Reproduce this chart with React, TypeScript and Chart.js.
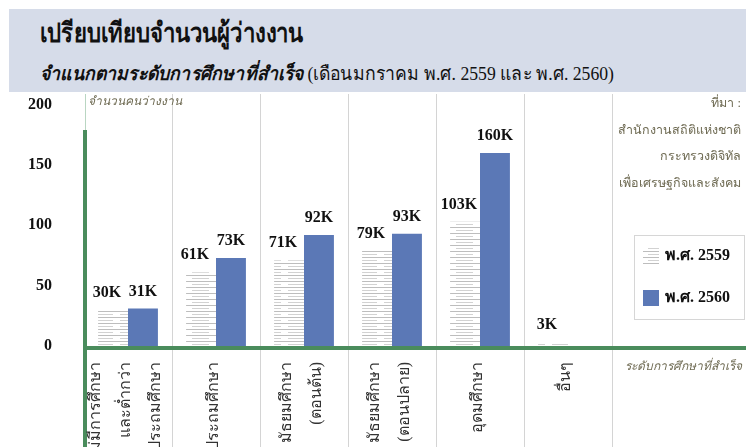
import React, { useEffect, useRef } from "react";
import { Chart, registerables } from "chart.js";
Chart.register(...registerables);

const categories: (string | string[])[] = [
  ["ไม่มีการศึกษา", "และต่ำกว่า", "ประถมศึกษา"],
  "ประถมศึกษา",
  ["มัธยมศึกษา", "(ตอนต้น)"],
  ["มัธยมศึกษา", "(ตอนปลาย)"],
  "อุดมศึกษา",
  "อื่นๆ",
];
const series2559: (number | null)[] = [30, 61, 71, 79, 103, 3];
const series2560: (number | null)[] = [31, 73, 92, 93, 160, null];
const yTicks = [0, 50, 100, 150, 200];
const seriesNames = ["พ.ศ. 2559", "พ.ศ. 2560"];
const sourceLines = ["ที่มา :", "สำนักงานสถิติแห่งชาติ", "กระทรวงดิจิทัล", "เพื่อเศรษฐกิจและสังคม"];
const yCaption = "จำนวนคนว่างงาน";
const xCaption = "ระดับการศึกษาที่สำเร็จ";
const title = "เปรียบเทียบจำนวนผู้ว่างงาน";
const subtitleBold = "จำแนกตามระดับการศึกษาที่สำเร็จ";
const subtitleRest = " (เดือนมกราคม พ.ศ. 2559 และ พ.ศ. 2560)";

const BLUE = "#5b78b6";
const GREEN = "#4a8c5c";
const NOTE = "#6e6a52";
const SERIF = '"Liberation Serif", "Times New Roman", serif';
const CANVAS_TOP = 72;
const CANVAS_H = 448 - CANVAS_TOP;
const AXIS_H = CANVAS_H - (347 - CANVAS_TOP);
const p = (pageY: number) => pageY - CANVAS_TOP;

function makeHatch(): CanvasPattern | string {
  const c = document.createElement("canvas");
  c.width = 24;
  c.height = 6;
  const g = c.getContext("2d");
  if (!g) return "#eee";
  g.fillStyle = "#ffffff";
  g.fillRect(0, 0, 24, 6);
  g.fillStyle = "#bdbdbd";
  g.fillRect(0, 0, 24, 1);
  g.fillStyle = "#d2d2d2";
  g.fillRect(0, 3, 17, 1);
  const pat = g.createPattern(c, "repeat");
  return pat || "#eee";
}

export default function App() {
  const ref = useRef<HTMLCanvasElement | null>(null);

  useEffect(() => {
    document.body.style.margin = "0";
    const canvas = ref.current;
    if (!canvas) return;
    const hatch = makeHatch();

    const overlay = {
      id: "overlay",
      beforeDatasetsDraw(chart: any) {
        const { ctx, chartArea, scales } = chart;
        const x = scales.x;
        ctx.save();
        ctx.strokeStyle = "#d4d4d4";
        ctx.lineWidth = 1;
        for (let i = 0; i < categories.length; i++) {
          const px = Math.round(x.getPixelForValue(i + 0.5)) + 0.5;
          ctx.beginPath();
          ctx.moveTo(px, p(95));
          ctx.lineTo(px, chart.height);
          ctx.stroke();
        }
        ctx.strokeStyle = "#b9d6c2";
        ctx.beginPath();
        ctx.moveTo(chartArea.left + 1.5, p(95));
        ctx.lineTo(chartArea.left + 1.5, p(132));
        ctx.stroke();
        ctx.restore();
      },
      afterDraw(chart: any) {
        const { ctx, chartArea, scales } = chart;
        const y = scales.y;
        const x = scales.x;
        const W = chart.width;
        ctx.save();
        // axes
        ctx.strokeStyle = GREEN;
        ctx.lineWidth = 4;
        const y0 = y.getPixelForValue(0) + 2;
        ctx.beginPath();
        ctx.moveTo(chartArea.left, y0);
        ctx.lineTo(W, y0);
        ctx.stroke();
        ctx.beginPath();
        ctx.moveTo(chartArea.left + 1, y.getPixelForValue(179));
        ctx.lineTo(chartArea.left + 1, chart.height);
        ctx.stroke();

        // category labels (rotated, reading upward)
        ctx.fillStyle = "#333";
        ctx.font = "16px " + SERIF;
        ctx.textAlign = "right";
        ctx.textBaseline = "middle";
        categories.forEach((lab, i) => {
          const lines = Array.isArray(lab) ? lab : [lab];
          const cx = x.getPixelForValue(i);
          const step = 30;
          lines.forEach((ln, k) => {
            const lx = cx + (k - (lines.length - 1) / 2) * step - 2;
            ctx.save();
            ctx.translate(lx, y0 + 14);
            ctx.rotate(-Math.PI / 2);
            ctx.fillText(ln, 0, 0);
            ctx.restore();
          });
        });

        // value labels
        ctx.fillStyle = "#111";
        ctx.font = "bold 16px " + SERIF;
        ctx.textAlign = "center";
        ctx.textBaseline = "alphabetic";
        [series2559, series2560].forEach((arr, di) => {
          const meta = chart.getDatasetMeta(di);
          meta.data.forEach((bar: any, i: number) => {
            const v = arr[i];
            if (v == null) return;
            ctx.fillText(v + "K", bar.x + (di === 0 ? -6 : 0), bar.y - 13);
          });
        });

        // captions
        ctx.fillStyle = NOTE;
        ctx.font = "italic 12px " + SERIF;
        ctx.textAlign = "left";
        ctx.textBaseline = "middle";
        ctx.fillText(yCaption, chartArea.left + 4, p(103));
        ctx.textAlign = "right";
        ctx.fillText(xCaption, W - 4, p(368));
        ctx.font = "12.5px " + SERIF;
        sourceLines.forEach((s, i) => {
          ctx.fillText(s, W - 5, p(105 + i * 26.5));
        });

        // legend
        ctx.strokeStyle = "#d6d6d6";
        ctx.lineWidth = 1;
        ctx.strokeRect(634.5, p(236.5), 110, 84);
        const items = [
          { name: seriesNames[0], fill: hatch, yy: p(257) },
          { name: seriesNames[1], fill: BLUE, yy: p(299) },
        ];
        items.forEach((it) => {
          ctx.fillStyle = it.fill as any;
          ctx.fillRect(643, it.yy - 8, 16, 16);
          ctx.fillStyle = "#111";
          ctx.font = "bold 16px " + SERIF;
          ctx.textAlign = "left";
          ctx.textBaseline = "middle";
          ctx.fillText(it.name, 665, it.yy);
        });
        ctx.restore();
      },
    };

    const chart = new Chart(canvas, {
      type: "bar",
      data: {
        labels: categories as any,
        datasets: [
          { label: seriesNames[0], data: series2559 as any, backgroundColor: hatch as any, borderWidth: 0 },
          { label: seriesNames[1], data: series2560 as any, backgroundColor: BLUE, borderWidth: 0 },
        ],
      },
      options: {
        animation: false,
        responsive: false,
        maintainAspectRatio: false,
        layout: { padding: { top: 0, right: 134, left: 0, bottom: 0 } },
        plugins: { legend: { display: false }, tooltip: { enabled: false }, title: { display: false } },
        datasets: { bar: { barPercentage: 1, categoryPercentage: 0.68 } } as any,
        scales: {
          x: {
            offset: true,
            grid: { display: false },
            border: { display: false },
            afterFit: (s: any) => {
              s.height = AXIS_H;
            },
            ticks: { display: false },
          },
          y: {
            min: 0,
            max: 200,
            afterFit: (s: any) => {
              s.width = 84;
            },
            afterBuildTicks: (s: any) => {
              s.ticks = yTicks.map((v) => ({ value: v }));
            },
            grid: { display: false },
            border: { display: false },
            ticks: {
              padding: 24,
              color: "#111",
              font: { family: SERIF, size: 16, weight: "bold" },
            },
          },
        },
      },
      plugins: [overlay],
    } as any);
    const shift = 105 - CANVAS_TOP - chart.chartArea.top;
    if (Math.abs(shift) > 0.5) {
      canvas.style.top = CANVAS_TOP + shift + "px";
    }
    return () => chart.destroy();
  }, []);

  return (
    <div style={{ position: "relative", width: 746, height: 448, overflow: "hidden", background: "#fff" }}>
      <div
        style={{
          position: "absolute",
          left: 9,
          top: 9,
          width: 737,
          height: 83,
          background: "#d6dce9",
          fontFamily: SERIF,
          color: "#111",
        }}
      >
        <div
          style={{
            position: "absolute",
            left: 31,
            top: 2,
            fontSize: 27,
            fontWeight: "bold",
            whiteSpace: "nowrap",
            transform: "scaleX(0.82)",
            transformOrigin: "left center",
          }}
        >
          {title}
        </div>
        <div
          style={{
            position: "absolute",
            left: 31,
            top: 49,
            fontSize: 19,
            whiteSpace: "nowrap",
            transform: "scaleX(0.93)",
            transformOrigin: "left center",
          }}
        >
          <span style={{ fontWeight: "bold", fontStyle: "italic" }}>{subtitleBold}</span>
          <span>{subtitleRest}</span>
        </div>
      </div>
      <canvas
        ref={ref}
        width={746}
        height={CANVAS_H}
        style={{ position: "absolute", left: 0, top: CANVAS_TOP, width: 746, height: CANVAS_H }}
      />
    </div>
  );
}
